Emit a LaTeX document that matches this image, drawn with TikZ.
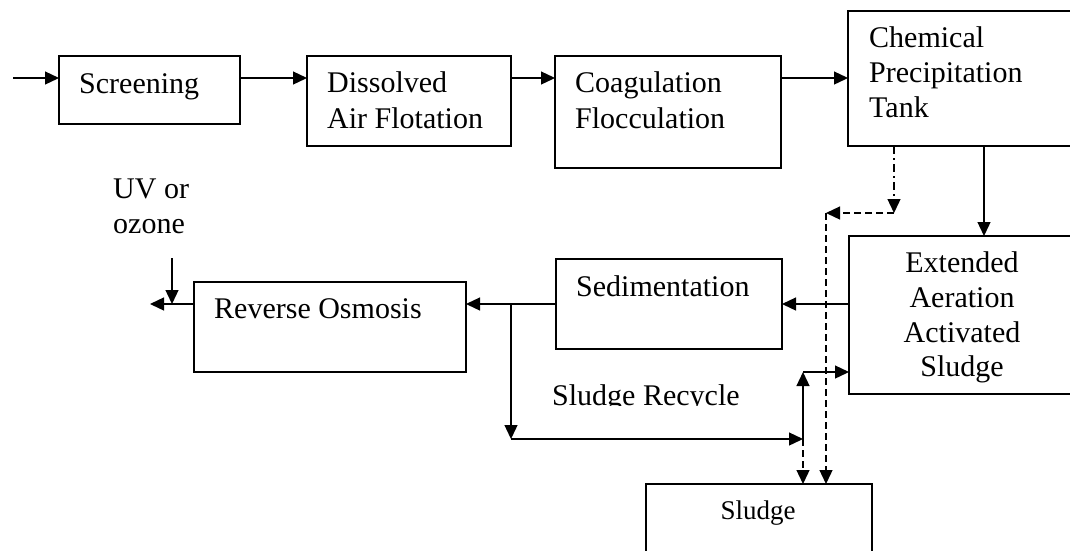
\documentclass[tikz,border=0pt]{standalone}
\usepackage{fontspec}
\setmainfont{Liberation Serif}
\usetikzlibrary{arrows.meta}
\tikzset{
  box/.style={draw, line width=1.6pt, inner sep=0pt, outer sep=0pt, anchor=north west},
  txt/.style={inner sep=0pt, font=\fontsize{30}{36}\selectfont},
  smalltxt/.style={inner sep=0pt, font=\fontsize{27}{32}\selectfont},
  arr/.style={line width=1.3pt, -{Triangle[length=14pt,width=13pt]}},
  dasharr/.style={arr, dash pattern=on 7pt off 4pt},
  dotdasharr/.style={arr, dash pattern=on 8pt off 4pt on 2pt off 4pt},
}
\begin{document}
\begin{tikzpicture}[x=1pt,y=-1pt]
\useasboundingbox (0,0) rectangle (1070,550);
\clip (0,0) rectangle (1070,550);
% boxes
\node[box, minimum width=181pt, minimum height=68pt] (scr) at (59,56) {};
\node[box, minimum width=204pt, minimum height=90pt] (daf) at (307,56) {};
\node[box, minimum width=226pt, minimum height=112pt] (coag) at (555,56) {};
\node[box, minimum width=250pt, minimum height=135pt] (chem) at (848,11) {};
\node[box, minimum width=250pt, minimum height=158pt] (ext) at (849,236) {};
\node[box, minimum width=226pt, minimum height=90pt] (sed) at (556,259) {};
\node[box, minimum width=272pt, minimum height=90pt] (ro) at (194,282) {};
\node[box, minimum width=226pt, minimum height=90pt] (sludge) at (646,484) {};
% texts
\node[txt, anchor=base west] (tscr) at (79,93) {Screening};
\node[txt, anchor=base west] (tdaf1) at (327,92) {Dissolved};
\node[txt, anchor=base west] (tdaf2) at (327,128) {Air Flotation};
\node[txt, anchor=base west] (tcoag1) at (575,92) {Coagulation};
\node[txt, anchor=base west] (tcoag2) at (575,128) {Flocculation};
\node[txt, anchor=base west] (tchem1) at (869,47) {Chemical};
\node[txt, anchor=base west] (tchem2) at (869,82) {Precipitation};
\node[txt, anchor=base west] (tchem3) at (869,117) {Tank};
\node[txt, anchor=base] (text1) at (962,272) {Extended};
\node[txt, anchor=base] (text2) at (962,307) {Aeration};
\node[txt, anchor=base] (text3) at (962,342) {Activated};
\node[txt, anchor=base] (text4) at (962,376) {Sludge};
\node[txt, anchor=base west] (tsed) at (576,296) {Sedimentation};
\node[txt, anchor=base west] (tro) at (214,318) {Reverse Osmosis};
\node[txt, anchor=base west] (tuv1) at (113,198) {UV or};
\node[txt, anchor=base west] (tuv2) at (113,233) {ozone};
\node[smalltxt, anchor=base] (tsludge) at (758,519) {Sludge};
\begin{scope}
\clip (0,0) rectangle (1070,405);
\node[txt, anchor=base west] (trec) at (552,405) {Sludge Recycle};
\end{scope}
% coordinates
\coordinate (in) at (13,78);
\coordinate (cx) at (984,0);
\coordinate (dd1) at (894,213);
\coordinate (dd2) at (826,213);
\coordinate (mid) at (0,304);
\coordinate (out) at (150,304);
\coordinate (uvtop) at (172,258);
\coordinate (uvj) at (172,304);
\coordinate (b1) at (511,304);
\coordinate (b2) at (511,439);
\coordinate (b3) at (803,439);
\coordinate (b4) at (803,372);
% connectors
\draw[arr] (in) -- (in -| scr.west);
\draw[arr] (scr.east |- in) -- (daf.west |- in);
\draw[arr] (daf.east |- in) -- (coag.west |- in);
\draw[arr] (coag.east |- in) -- (chem.west |- in);
\draw[arr] (chem.south -| cx) -- (ext.north -| cx);
\draw[dotdasharr] (chem.south -| dd1) -- (dd1);
\draw[dasharr] (dd1) -- (dd2);
\draw[dasharr] (dd2) -- (sludge.north -| dd2);
\draw[arr] (ext.west |- mid) -- (sed.east |- mid);
\draw[arr] (sed.west |- mid) -- (ro.east |- mid);
\draw[arr] (ro.west |- mid) -- (out);
\draw[arr] (uvtop) -- (uvj);
\draw[arr] (b1) -- (b2);
\draw[arr] (b2) -- (b3);
\draw[arr] (b3) -- (b4);
\draw[arr] (b4) -- (ext.west |- b4);
\draw[dasharr] (b3) -- (sludge.north -| b3);
\end{tikzpicture}
\end{document}
